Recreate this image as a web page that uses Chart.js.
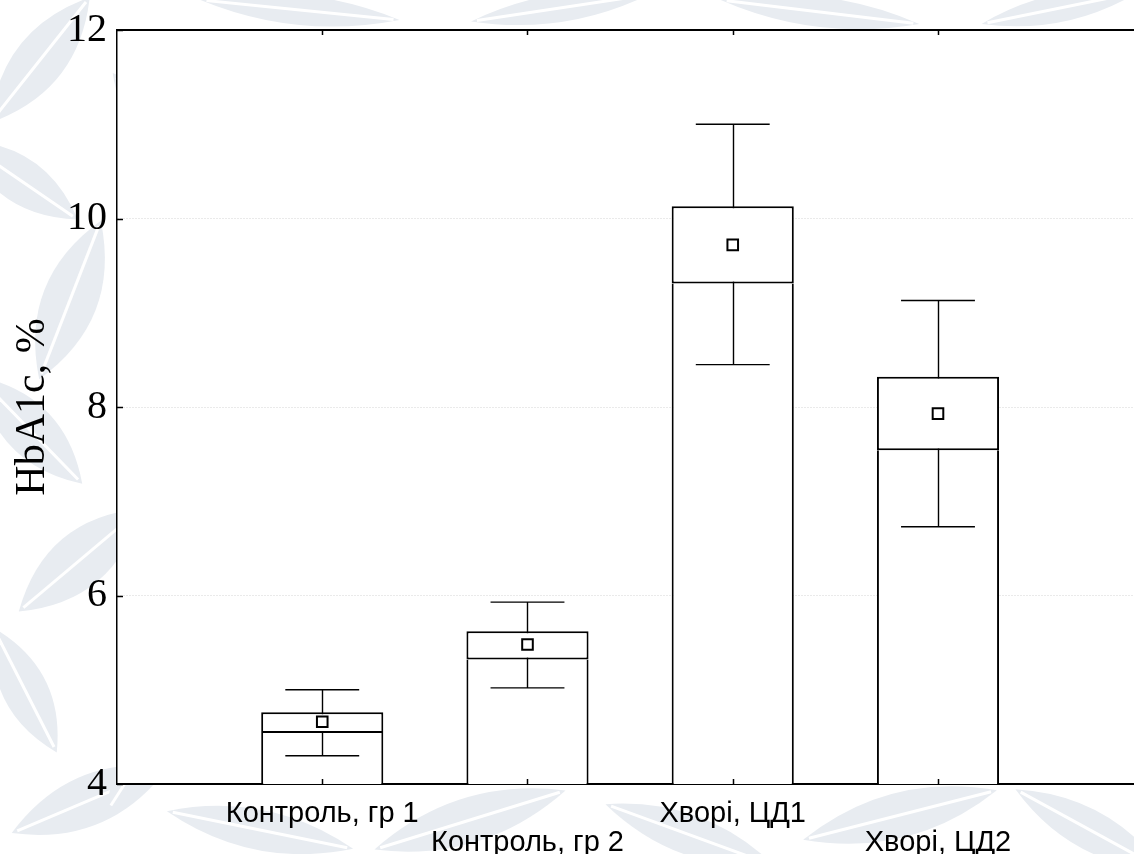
<!DOCTYPE html>
<html>
<head>
<meta charset="utf-8">
<title>HbA1c, %</title>
<script src="https://cdn.jsdelivr.net/npm/chart.js@4/dist/chart.umd.min.js"></script>
<style>
  html, body { margin: 0; padding: 0; background: #ffffff; overflow: hidden; }
  #wrap { width: 1134px; height: 854px; }
  canvas { display: block; }
</style>
</head>
<body>
<div id="wrap"><canvas id="chart" width="1134" height="854" style="width:1134px;height:854px"></canvas></div>
<script>
// Groups and their positions on the x axis
const groups = ['Контроль, гр 1', 'Контроль, гр 2', 'Хворі, ЦД1', 'Хворі, ЦД2'];
const positions = [1, 2, 3, 4];

// HbA1c summary per group (%)
const means         = [4.66, 5.48, 9.72, 7.93];
const boxLower      = [4.54, 5.32, 9.31, 7.54];
const boxUpper      = [4.76, 5.62, 10.13, 8.32];
const whiskerLower  = [4.30, 5.02, 8.45, 6.73];
const whiskerUpper  = [5.00, 5.93, 11.00, 9.13];

// Axis settings
const xRange = [0, 4.955];
const yTicks = [4, 6, 8, 10, 12];
const yTitle = 'HbA1c, %';

const SERIF = '"Liberation Serif", "Times New Roman", serif';
const SANS = '"Liberation Sans", Arial, sans-serif';

// Faint leaf ornament behind the chart, kept out of the plot area
const ornament = {
  id: 'ornament',
  beforeDraw(chart) {
    const { ctx, chartArea: a, width, height } = chart;
    ctx.save();
    ctx.fillStyle = '#ffffff';
    ctx.fillRect(0, 0, width, height);
    const leaf = (cx, cy, len, wid, ang) => {
      ctx.save();
      ctx.translate(cx, cy);
      ctx.rotate(ang);
      ctx.beginPath();
      ctx.moveTo(-len / 2, 0);
      ctx.quadraticCurveTo(0, -wid, len / 2, 0);
      ctx.quadraticCurveTo(0, wid, -len / 2, 0);
      ctx.fillStyle = '#e8ecf1';
      ctx.fill();
      ctx.beginPath();
      ctx.moveTo(-len / 2 + 6, 0);
      ctx.lineTo(len / 2 - 6, 0);
      ctx.strokeStyle = '#ffffff';
      ctx.lineWidth = 3;
      ctx.stroke();
      ctx.restore();
    };
    const leaves = [
      [40, 60, 160, 50, -0.9], [20, 180, 140, 45, 0.6], [70, 300, 170, 55, -1.2],
      [30, 430, 150, 50, 0.8], [80, 560, 160, 55, -0.7], [25, 690, 140, 45, 1.1],
      [90, 800, 170, 50, -0.4], [260, 830, 190, 40, 0.2], [470, 820, 200, 45, -0.3],
      [690, 835, 180, 40, 0.35], [900, 815, 200, 45, -0.25], [1090, 830, 170, 40, 0.5],
      [300, 10, 200, 30, 0.1], [560, 8, 180, 28, -0.15], [820, 12, 200, 30, 0.12],
      [1060, 8, 160, 28, -0.2], [140, 760, 120, 35, -1.0], [150, 120, 120, 35, 0.9]
    ];
    leaves.forEach(l => leaf(...l));
    ctx.fillStyle = '#ffffff';
    ctx.fillRect(a.left, a.top, a.right - a.left, a.bottom - a.top);
    ctx.restore();
  }
};

// Whiskers sit above the lower bars and beneath the upper boxes
const whiskers = {
  id: 'whiskers',
  afterDatasetDraw(chart, args) {
    if (args.index !== 2) return;
    const { ctx, scales: { x, y }, chartArea: a } = chart;
    ctx.save();
    ctx.beginPath();
    ctx.rect(a.left, a.top, a.right - a.left, a.bottom - a.top);
    ctx.clip();
    ctx.strokeStyle = '#000000';
    ctx.lineWidth = 1.4;
    positions.forEach((p, i) => {
      const cx = Math.round(x.getPixelForValue(p)) + 0.5;
      const xl = x.getPixelForValue(p - 0.18);
      const xr = x.getPixelForValue(p + 0.18);
      const yl = y.getPixelForValue(whiskerLower[i]);
      const yh = y.getPixelForValue(whiskerUpper[i]);
      ctx.beginPath();
      ctx.moveTo(cx, yl); ctx.lineTo(cx, yh);
      ctx.moveTo(xl, yl); ctx.lineTo(xr, yl);
      ctx.moveTo(xl, yh); ctx.lineTo(xr, yh);
      ctx.stroke();
    });
    ctx.restore();
  }
};

// Frame top line and inward tick marks
const frame = {
  id: 'frame',
  afterDraw(chart) {
    const { ctx, scales: { x, y }, chartArea: a } = chart;
    ctx.save();
    ctx.strokeStyle = '#000000';
    ctx.lineWidth = 2;
    ctx.beginPath();
    ctx.moveTo(a.left, a.top);
    ctx.lineTo(a.right, a.top);
    ctx.stroke();
    ctx.lineWidth = 1.5;
    ctx.beginPath();
    y.ticks.forEach(t => {
      const py = Math.round(y.getPixelForValue(t.value)) + 0.5;
      ctx.moveTo(a.left, py); ctx.lineTo(a.left + 6, py);
    });
    x.ticks.forEach(t => {
      const px = Math.round(x.getPixelForValue(t.value)) + 0.5;
      ctx.moveTo(px, a.bottom); ctx.lineTo(px, a.bottom - 5);
      ctx.moveTo(px, a.top); ctx.lineTo(px, a.top + 5);
    });
    ctx.stroke();
    ctx.restore();
  }
};

const barCommon = {
  type: 'bar',
  grouped: false,
  barPercentage: 0.595,
  categoryPercentage: 1.0,
  backgroundColor: '#ffffff',
  borderColor: '#000000',
  borderWidth: 2,
  inflateAmount: 0
};

new Chart(document.getElementById('chart'), {
  type: 'bar',
  data: {
    datasets: [
      {
        type: 'scatter',
        label: 'Середнє',
        data: positions.map((p, i) => ({ x: p, y: means[i] })),
        pointStyle: 'rect',
        pointRadius: 7.5,
        pointHoverRadius: 7.5,
        pointBorderWidth: 2,
        pointBackgroundColor: '#ffffff',
        pointBorderColor: '#000000',
        order: 0
      },
      Object.assign({}, barCommon, {
        label: 'Верхня межа',
        data: positions.map((p, i) => ({ x: p, y: [boxLower[i], boxUpper[i]] })),
        borderSkipped: false,
        order: 1
      }),
      Object.assign({}, barCommon, {
        label: 'Нижня межа',
        data: positions.map((p, i) => ({ x: p, y: boxLower[i] })),
        borderSkipped: 'top',
        order: 2
      })
    ]
  },
  options: {
    responsive: false,
    animation: false,
    events: [],
    layout: { autoPadding: false, padding: { top: 30, right: 0, bottom: 0, left: 0 } },
    plugins: {
      legend: { display: false },
      tooltip: { enabled: false }
    },
    scales: {
      x: {
        type: 'linear',
        min: xRange[0],
        max: xRange[1],
        offset: false,
        afterBuildTicks: (scale) => { scale.ticks = positions.map(v => ({ value: v })); },
        afterFit: (scale) => {
          scale.height = 70;
          scale.paddingLeft = 0;
          scale.paddingRight = 0;
        },
        grid: { display: false, drawTicks: false, offset: false },
        border: { display: true, color: '#000000', width: 2 },
        ticks: {
          autoSkip: false,
          maxRotation: 0,
          minRotation: 0,
          padding: 15,
          color: '#000000',
          font: { family: SANS, size: 29, lineHeight: 1.0 },
          callback: (value) => {
            const i = positions.indexOf(value);
            if (i < 0) return '';
            return i % 2 === 0 ? [groups[i], ''] : ['', groups[i]];
          }
        }
      },
      y: {
        min: 4,
        max: 12,
        afterBuildTicks: (scale) => { scale.ticks = yTicks.map(v => ({ value: v })); },
        afterFit: (scale) => { scale.width = 117; },
        grid: {
          drawTicks: false,
          lineWidth: 1,
          color: (c) => (c.tick && (c.tick.value === 4 || c.tick.value === 12)) ? 'rgba(0,0,0,0)' : '#d4d4d4'
        },
        border: { display: true, color: '#000000', width: 1.5, dash: [1, 2] },
        ticks: {
          padding: 10,
          color: '#000000',
          font: { family: SERIF, size: 40, lineHeight: 1.0 },
          callback: (v) => String(v)
        },
        title: {
          display: true,
          text: yTitle,
          color: '#000000',
          font: { family: SERIF, size: 42 },
          padding: { top: 8, bottom: 0 }
        }
      }
    }
  },
  plugins: [ornament, whiskers, frame]
});
</script>
</body>
</html>
